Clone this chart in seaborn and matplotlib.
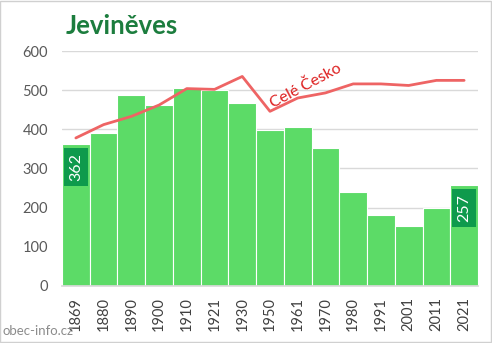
import matplotlib
matplotlib.use("Agg")
import matplotlib.pyplot as plt
import seaborn as sns
import numpy as np
import pandas as pd
from matplotlib.patches import Rectangle

years = ["1869", "1880", "1890", "1900", "1910", "1921", "1930", "1950",
         "1961", "1970", "1980", "1991", "2001", "2011", "2021"]
population = [362, 390, 488, 462, 506, 501, 468, 399, 405, 352, 239, 180, 152, 198, 257]
czech_scaled = [378, 412, 433, 462, 504, 502, 535, 446, 480, 493, 516, 516, 512, 525, 525]
labelled = ["1869", "2021"]
y_ticks = [0, 100, 200, 300, 400, 500, 600]

sns.set_theme(style="white")
plt.rcParams["font.family"] = ["Lato", "DejaVu Sans"]

fig = plt.figure(figsize=(4.92, 3.43), dpi=100)
ax = fig.add_axes([0.126, 0.1662, 0.8455, 0.6851])

df = pd.DataFrame({"year": years, "pop": population})
sns.barplot(data=df, x="year", y="pop", ax=ax, color="#5cdb67", saturation=1,
            width=1.0, edgecolor="white", linewidth=0.8, zorder=2)

sns.lineplot(x=np.arange(len(years)), y=czech_scaled, ax=ax, color="#ee6464",
             linewidth=2.0, zorder=3)

ax.set_ylim(0, 600)
ax.set_xlim(-0.5, len(years) - 0.5)
ax.set_yticks(y_ticks)
ax.set_yticklabels([str(t) for t in y_ticks], fontsize=10.5, color="#595959")
ax.yaxis.grid(True, color="#d9d9d9", linewidth=1.0, zorder=0)
ax.set_axisbelow(True)
ax.tick_params(axis="y", length=0, pad=10)

ax.set_xticks(np.arange(len(years)) - 0.5, minor=True)
ax.set_xticks(np.arange(len(years)))
ax.set_xticklabels(years, rotation=90, fontsize=10.5, color="#404040")
ax.tick_params(axis="x", which="major", length=0, pad=8)
ax.tick_params(axis="x", which="minor", length=5, color="#d9d9d9", width=1)
ax.set_xlabel("")
ax.set_ylabel("")
for s in ["top", "right", "left"]:
    ax.spines[s].set_visible(False)
ax.spines["bottom"].set_color("#d9d9d9")

# value boxes on the first and last census
for yr in labelled:
    i = years.index(yr)
    v = population[i]
    ax.text(i, v - 22, str(v), rotation=90, ha="center", va="top",
            color="white", fontsize=11.5, zorder=5,
            bbox=dict(boxstyle="square,pad=0.33", fc="#0e9a4c", ec="none"))

ax.text(8.3, 510, "Celé Česko", rotation=28, ha="center", va="center",
        color="#dd1f1f", fontsize=11.5, zorder=6)

fig.text(0.133, 0.925, "Jeviněves", fontsize=18.5, fontweight="bold",
         color="#1c7d3e", ha="left", va="center")
fig.text(0.006, 0.035, "obec-info.cz", fontsize=9.5, color="#8c8c8c",
         ha="left", va="center")

fig.patches.append(Rectangle((0.001, 0.002), 0.997, 0.995, transform=fig.transFigure,
                             fill=False, edgecolor="#d0d0d0", linewidth=1))

fig.savefig("out.png", dpi=100)
